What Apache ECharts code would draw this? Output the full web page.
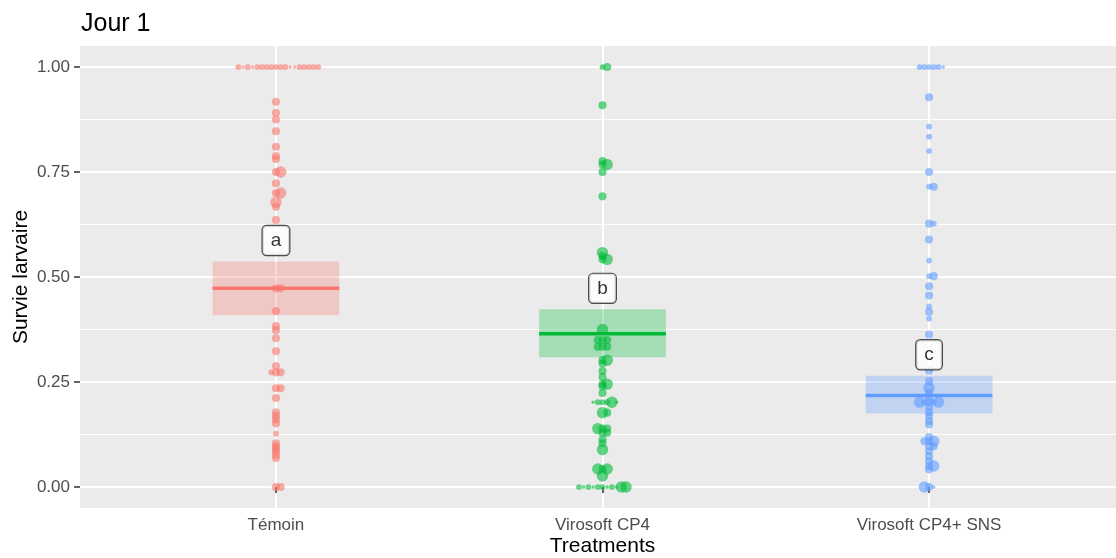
<!DOCTYPE html>
<html>
<head>
<meta charset="utf-8">
<script src="https://cdn.jsdelivr.net/npm/echarts@6/dist/echarts.min.js"></script>
<style>
html,body{margin:0;padding:0;background:#fff;}
#chart{width:1116px;height:558px;}
</style>
</head>
<body>
<div id="chart"></div>
<script>
// ---------- data ----------
const categories = ['Témoin', 'Virosoft CP4', 'Virosoft CP4+ SNS'];
const yTicks = [0, 0.25, 0.5, 0.75, 1];
const yMinorTicks = [0.125, 0.375, 0.625, 0.875];

const temoinValues = [1,1,1,1,1,1,1,1,1,1,1,1,1,1,1,1,1,1,
  0.917,0.891,0.875,0.847,0.810,0.788,0.781,0.75,0.75,0.723,0.70,0.70,0.678,0.667,0.636,
  0.473,0.473,0.419,0.383,0.373,0.354,0.323,0.288,0.273,0.273,0.273,0.235,0.235,0.212,
  0.178,0.169,0.161,0.151,0.127,0.104,0.097,0.091,0.085,0.077,0.069,0,0];
const temoinN = [3,3,3,3,3,1,3,1,3,3,1,3,3,3,1,3,3,3,
  6,6,6,6,6,6,6,6,12,6,6,12,12,6,6,
  6,6,6,6,6,6,6,6,6,6,3,6,6,6,
  6,6,6,6,3,6,6,6,6,6,6,6,6];

const cp4Values = [1,1,0.909,0.776,0.768,0.768,0.75,0.692,0.558,0.55,0.542,0.542,
  0.375,0.35,0.35,0.35,0.334,0.334,0.334,0.302,0.302,0.294,0.276,0.262,0.245,0.245,0.24,0.224,
  0.202,0.202,0.202,0.202,0.202,0.202,0.177,0.177,0.139,0.139,0.139,0.129,0.129,0.113,0.104,0.089,
  0.043,0.043,0.043,0.026,0,0,0,0,0,0,0,0,0,0,0];
const cp4N = [3,6,6,6,6,12,6,6,12,6,6,12,
  12,6,6,6,6,6,6,6,12,6,6,6,6,12,6,6,
  3,3,3,12,1,1,12,6,6,6,12,6,6,6,6,12,
  6,12,12,12,3,1,3,3,1,1,3,12,1,12,3];

const snsValues = [1,1,1,1,1,1,0.928,0.858,0.834,0.80,0.75,0.715,0.715,0.627,0.627,0.589,0.539,0.502,0.502,
  0.478,0.456,0.43,0.417,0.401,0.363,0.277,0.252,0.236,0.224,0.212,0.202,0.202,0.202,0.202,0.202,
  0.191,0.178,0.169,0.157,0.149,0.119,0.109,0.109,0.109,0.097,0.097,0.085,0.073,0.061,0.05,0.05,0.042,0,0,0];
const snsN = [3,3,3,3,3,1,6,3,3,3,6,3,6,6,3,6,3,3,6,
  6,6,3,6,3,6,6,6,12,6,6,6,3,3,12,12,
  6,6,6,6,6,6,6,12,6,6,6,6,6,6,6,12,6,6,1,12];

const meanValues = [0.473, 0.365, 0.218];
const ciLow = [0.409, 0.309, 0.175];
const ciHigh = [0.537, 0.423, 0.265];
const groupLetters = ['a', 'b', 'c'];

// ---------- styling ----------
const colors = ['#F8766D', '#00BA38', '#619CFF'];
const FONT = '"Liberation Sans", Arial, Helvetica, sans-serif';
const DODGE = 0.0144;      // horizontal spacing (category units) for tied values
const HALF_BAR = 0.194;    // crossbar half width (category units)
const LABEL_NUDGE = 0.05;

function swarm(values, ns, pos) {
  const counts = {};
  return values.map((v, i) => {
    const k = counts[v] || 0;
    counts[v] = k + 1;
    const m = k === 0 ? 0 : (k % 2 === 1 ? (k + 1) / 2 : -k / 2);
    return [pos + m * DODGE, v, ns[i]];
  });
}

const groups = [[temoinValues, temoinN], [cp4Values, cp4N], [snsValues, snsN]];

const chart = echarts.init(document.getElementById('chart'), null, {renderer: 'canvas'});

const series = [];
// crossbars
series.push({
  type: 'custom',
  z: 3,
  silent: true,
  data: categories.map((c, i) => [i + 1, meanValues[i], ciLow[i], ciHigh[i]]),
  renderItem: function (params, api) {
    const x = api.value(0), m = api.value(1), lo = api.value(2), hi = api.value(3);
    const p1 = api.coord([x - HALF_BAR, hi]);
    const p2 = api.coord([x + HALF_BAR, lo]);
    const pm1 = api.coord([x - HALF_BAR, m]);
    const pm2 = api.coord([x + HALF_BAR, m]);
    const col = colors[params.dataIndex];
    return {
      type: 'group',
      children: [
        {type: 'rect', shape: {x: p1[0], y: p1[1], width: p2[0] - p1[0], height: p2[1] - p1[1]},
         style: {fill: col, opacity: 0.3}},
        {type: 'line', shape: {x1: pm1[0], y1: pm1[1], x2: pm2[0], y2: pm2[1]},
         style: {stroke: col, lineWidth: 3.5}}
      ]
    };
  }
});
// points
groups.forEach((g, i) => {
  series.push({
    type: 'scatter',
    z: 4,
    silent: true,
    symbol: 'circle',
    symbolSize: d => 3.3 * Math.sqrt(d[2]),
    itemStyle: {color: colors[i], opacity: 0.6},
    emphasis: {disabled: true},
    data: swarm(g[0], g[1], i + 1)
  });
});
// letter labels
series.push({
  type: 'scatter',
  z: 6,
  silent: true,
  symbolSize: 0,
  data: categories.map((c, i) => [i + 1, ciHigh[i] + LABEL_NUDGE]),
  label: {
    show: true,
    position: 'inside',
    formatter: p => groupLetters[p.dataIndex],
    fontFamily: FONT,
    fontSize: 19,
    lineHeight: 19,
    color: '#000',
    backgroundColor: '#ffffff',
    borderColor: '#222222',
    borderWidth: 1.2,
    borderRadius: 4,
    padding: [5, 8]
  }
});

const option = {
  animation: false,
  backgroundColor: '#ffffff',
  title: {
    text: 'Jour 1',
    left: 76,
    top: 7,
    textStyle: {fontFamily: FONT, fontSize: 25, fontWeight: 'normal', color: '#000'}
  },
  grid: {
    left: 80, top: 46, width: 1045, height: 462,
    outerBoundsMode: 'none',
    containLabel: false,
    show: true, backgroundColor: '#EBEBEB', borderWidth: 0
  },
  xAxis: {
    type: 'value',
    min: 0.4, max: 3.6,
    name: 'Treatments',
    nameLocation: 'middle',
    nameMoveOverlap: false,
    nameGap: 28,
    nameTextStyle: {fontFamily: FONT, fontSize: 21, color: '#000'},
    axisLine: {show: false},
    axisTick: {show: true, customValues: [1, 2, 3], length: 6, lineStyle: {color: '#333333', width: 1.5}},
    axisLabel: {customValues: [1, 2, 3], formatter: v => categories[Math.round(v) - 1],
      fontFamily: FONT, fontSize: 17, color: '#4D4D4D', margin: 9},
    splitLine: {show: true, lineStyle: {color: '#ffffff', width: 2}}
  },
  yAxis: [{
    type: 'value',
    min: -0.05, max: 1.05,
    name: 'Survie larvaire',
    nameLocation: 'middle',
    nameMoveOverlap: false,
    nameGap: 48,
    nameTextStyle: {fontFamily: FONT, fontSize: 21, color: '#000'},
    axisLine: {show: false},
    axisTick: {show: true, customValues: yTicks, length: 6, lineStyle: {color: '#333333', width: 1.5}},
    axisLabel: {customValues: yTicks, formatter: v => v.toFixed(2),
      fontFamily: FONT, fontSize: 17, color: '#4D4D4D', margin: 10},
    splitLine: {show: true, lineStyle: {color: '#ffffff', width: 2}}
  }, {
    type: 'value',
    min: -0.05, max: 1.05,
    position: 'left',
    axisLine: {show: false},
    axisTick: {show: false, customValues: yMinorTicks},
    axisLabel: {show: false, customValues: yMinorTicks},
    splitLine: {show: true, lineStyle: {color: '#ffffff', width: 1}}
  }],
  series: series
};
chart.setOption(option);
</script>
</body>
</html>
